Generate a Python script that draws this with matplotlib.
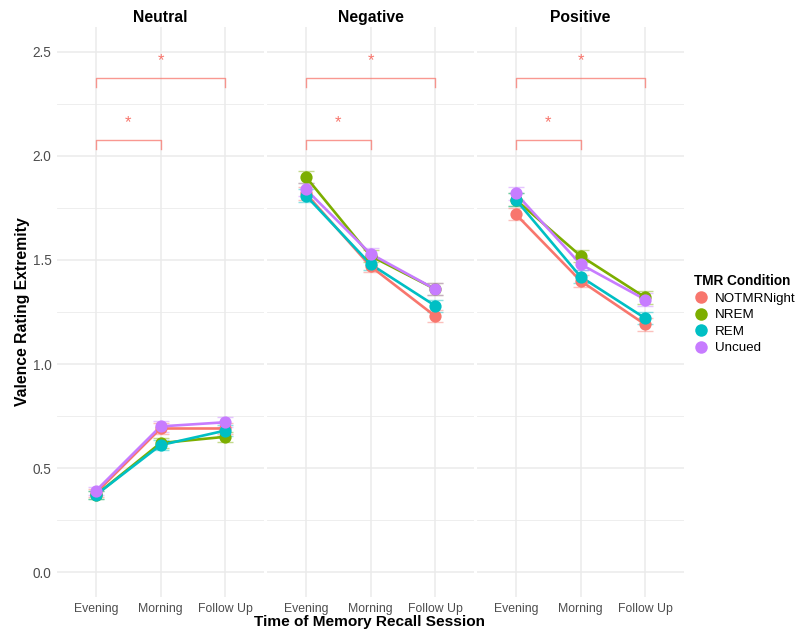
import matplotlib
matplotlib.use("Agg")
import matplotlib.pyplot as plt
from matplotlib.lines import Line2D
import numpy as np

plt.rcParams['font.family'] = ['Liberation Sans', 'DejaVu Sans']

# ---------------- data ----------------
sessions = ["Evening", "Morning", "Follow Up"]
valences = ["Neutral", "Negative", "Positive"]
conditions = ["NOTMRNight", "NREM", "REM", "Uncued"]
colors = ["#F8766D", "#7CAE00", "#00BFC4", "#C77CFF"]

# means [valence][condition][session]
neutral_means = {
    "NOTMRNight": [0.38, 0.69, 0.69],
    "NREM":       [0.37, 0.62, 0.65],
    "REM":        [0.37, 0.61, 0.68],
    "Uncued":     [0.39, 0.70, 0.72],
}
negative_means = {
    "NOTMRNight": [1.82, 1.47, 1.23],
    "NREM":       [1.90, 1.52, 1.36],
    "REM":        [1.81, 1.48, 1.28],
    "Uncued":     [1.84, 1.53, 1.36],
}
positive_means = {
    "NOTMRNight": [1.72, 1.40, 1.19],
    "NREM":       [1.79, 1.52, 1.32],
    "REM":        [1.79, 1.42, 1.22],
    "Uncued":     [1.82, 1.48, 1.31],
}
neutral_se = [0.02, 0.025, 0.025]
negative_se = [0.03, 0.03, 0.03]
positive_se = [0.03, 0.03, 0.03]

means_by_valence = [neutral_means, negative_means, positive_means]
se_by_valence = [neutral_se, negative_se, positive_se]

# significance brackets: (start session, end session, bracket height)
sig_starts = ["Evening", "Evening"]
sig_ends = ["Morning", "Follow Up"]
sig_heights = [2.077, 2.375]
sig_labels = ["*", "*"]

yticks = [0.0, 0.5, 1.0, 1.5, 2.0, 2.5]
yminor = [0.25, 0.75, 1.25, 1.75, 2.25]

# ---------------- figure ----------------
W, H = 799, 632
fig = plt.figure(figsize=(W / 100, H / 100), dpi=100)

panel_left_px = [57, 267, 477]
panel_w_px = 207
top_px, bot_px = 27, 597

grid_col = "#EBEBEB"
tick_col = "#4D4D4D"
xpos = np.arange(len(sessions))

axes = []
for i, val in enumerate(valences):
    ax = fig.add_axes([panel_left_px[i] / W, 1 - bot_px / H,
                       panel_w_px / W, (bot_px - top_px) / H])
    axes.append(ax)
    ax.set_xlim(-0.6, 2.6)
    ax.set_ylim(-0.12, 2.62)
    for s in ax.spines.values():
        s.set_visible(False)
    # grid
    for y in yticks:
        ax.axhline(y, color=grid_col, lw=1.1, zorder=0)
    for y in yminor:
        ax.axhline(y, color=grid_col, lw=0.6, zorder=0)
    for x in xpos:
        ax.axvline(x, color=grid_col, lw=1.1, zorder=0)

    ax.set_xticks(xpos)
    ax.set_xticklabels(sessions, fontsize=8.8, color=tick_col)
    ax.set_yticks(yticks)
    if i == 0:
        ax.set_yticklabels([f"{v:.1f}" for v in yticks], fontsize=9.8, color=tick_col)
    else:
        ax.set_yticklabels([])
    ax.tick_params(axis='both', length=0)
    ax.tick_params(axis='x', pad=4)
    ax.tick_params(axis='y', pad=4)
    ax.set_title(val, fontsize=11.3, fontweight='bold', pad=3.5)

    means = means_by_valence[i]
    se = se_by_valence[i]
    for c, col in zip(conditions, colors):
        m = np.array(means[c])
        ax.errorbar(xpos, m, yerr=se, fmt='none', ecolor=col, elinewidth=1.0,
                    capsize=5.5, capthick=1.0, alpha=0.45, zorder=2)
        ax.plot(xpos, m, color=col, lw=1.9, zorder=3)
        ax.plot(xpos, m, 'o', color=col, ms=8.8, mec='none', zorder=4)

    # significance brackets
    for s0, s1, h, lab in zip(sig_starts, sig_ends, sig_heights, sig_labels):
        x0 = sessions.index(s0)
        x1 = sessions.index(s1)
        ax.plot([x0, x0, x1, x1], [h - 0.045, h, h, h - 0.045],
                color="#F8766D", lw=1.0, alpha=0.75, zorder=3)
        ax.text((x0 + x1) / 2, h + 0.085, lab, color="#F8766D", fontsize=12,
                ha='center', va='center')

fig.text(369 / W, 1 - 622 / H, "Time of Memory Recall Session",
         fontsize=11.1, fontweight='bold', ha='center', va='center')
fig.text(23 / W, 1 - 312 / H, "Valence Rating Extremity",
         fontsize=11.3, fontweight='bold', ha='center', va='center', rotation=90)

handles = [Line2D([], [], marker='o', ls='none', color=c, ms=9, mec='none')
           for c in colors]
leg = fig.legend(handles, conditions, loc='upper left',
                 bbox_to_anchor=(694 / W, 1 - 274 / H),
                 frameon=False, fontsize=9.6, title="TMR Condition",
                 title_fontproperties={'weight': 'bold', 'size': 9.8},
                 alignment='left', handlelength=1.0, handletextpad=0.55,
                 labelspacing=0.32, borderpad=0.0, borderaxespad=0.0)

fig.savefig("out.png", dpi=100, facecolor='white')
